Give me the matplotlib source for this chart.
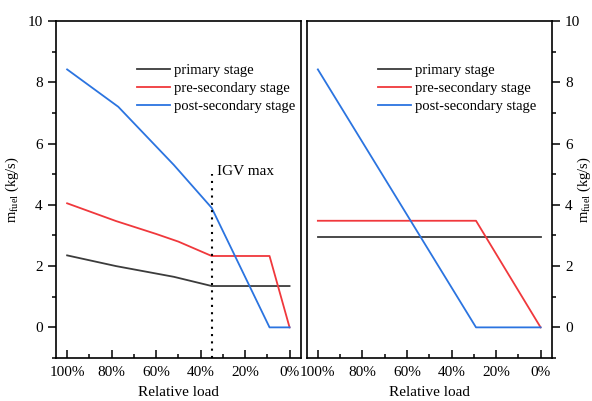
import matplotlib.pyplot as plt
from matplotlib.ticker import MultipleLocator, FuncFormatter

plt.rcParams['font.family'] = ['Liberation Serif', 'DejaVu Serif']
plt.rcParams['mathtext.fontset'] = 'custom'
plt.rcParams['mathtext.rm'] = 'Liberation Serif'
plt.rcParams['mathtext.it'] = 'Liberation Serif:italic'

# relative load (%) and fuel mass flow (kg/s) per stage
load_a_primary = [100, 78, 52, 35, 0]
fuel_a_primary = [2.35, 2.0, 1.65, 1.35, 1.35]
load_a_pre = [100, 78, 60, 50, 35, 9, 0]
fuel_a_pre = [4.05, 3.47, 3.05, 2.8, 2.33, 2.33, 0]
load_a_post = [100, 77, 52, 35, 9, 0]
fuel_a_post = [8.42, 7.2, 5.3, 3.9, 0, 0]

load_b_primary = [100, 0]
fuel_b_primary = [2.94, 2.94]
load_b_pre = [100, 29, 0]
fuel_b_pre = [3.48, 3.48, 0]
load_b_post = [100, 29, 0]
fuel_b_post = [8.42, 0, 0]

igv_load = 35
igv_top = 5

labels = ['primary stage', 'pre-secondary stage', 'post-secondary stage']
colors = ['#3c3c3c', '#f0383c', '#2b74e0']

fig = plt.figure(figsize=(5.92, 4.01), dpi=100)
ax1 = fig.add_axes([0.0946, 0.1072, 0.4133, 0.8404])
ax2 = fig.add_axes([0.5181, 0.1072, 0.4139, 0.8404])

ax1.plot(load_a_primary, fuel_a_primary, color=colors[0], lw=1.3, label=labels[0])
ax1.plot(load_a_pre, fuel_a_pre, color=colors[1], lw=1.3, label=labels[1])
ax1.plot(load_a_post, fuel_a_post, color=colors[2], lw=1.3, label=labels[2])
ax1.plot([igv_load, igv_load], [-1, igv_top], color='black', lw=1.5, ls=(0, (1, 2.5)))
ax1.text(igv_load - 2.5, igv_top + 0.1, 'IGV max', fontsize=11, ha='left', va='center')

ax2.plot(load_b_primary, fuel_b_primary, color=colors[0], lw=1.3, label=labels[0])
ax2.plot(load_b_pre, fuel_b_pre, color=colors[1], lw=1.3, label=labels[1])
ax2.plot(load_b_post, fuel_b_post, color=colors[2], lw=1.3, label=labels[2])

pct = FuncFormatter(lambda v, p: '%d%%' % v)
for ax, anchor_x in ((ax1, 1.03), (ax2, 0.99)):
    ax.set_xlim(105, -5)
    ax.set_ylim(-1, 10)
    ax.xaxis.set_major_locator(MultipleLocator(20))
    ax.xaxis.set_minor_locator(MultipleLocator(10))
    ax.xaxis.set_major_formatter(pct)
    ax.yaxis.set_major_locator(MultipleLocator(2))
    ax.yaxis.set_minor_locator(MultipleLocator(1))
    ax.tick_params(axis='x', which='major', direction='in', length=6, width=1.1, labelsize=11, pad=6)
    ax.tick_params(axis='x', which='minor', direction='in', length=3, width=1.1)
    ax.tick_params(axis='y', which='major', direction='out', length=6, width=1.1, labelsize=11)
    ax.tick_params(axis='y', which='minor', direction='out', length=3, width=1.1)
    for s in ax.spines.values():
        s.set_linewidth(1.2)
    ax.set_xlabel('Relative load', fontsize=11, labelpad=5)
    ax.legend(loc='upper right', bbox_to_anchor=(anchor_x, 0.912), frameon=False, fontsize=10.5,
              handlelength=2.25, handletextpad=0.25, labelspacing=0.33)

ax1.set_ylabel(r'm$_{\mathrm{fuel}}$ (kg/s)', fontsize=10.5, labelpad=5)
ax2.yaxis.tick_right()
ax2.yaxis.set_label_position('right')
ax2.set_ylabel(r'm$_{\mathrm{fuel}}$ (kg/s)', fontsize=10.5, labelpad=-3)

fig.savefig('out.png', dpi=100)
